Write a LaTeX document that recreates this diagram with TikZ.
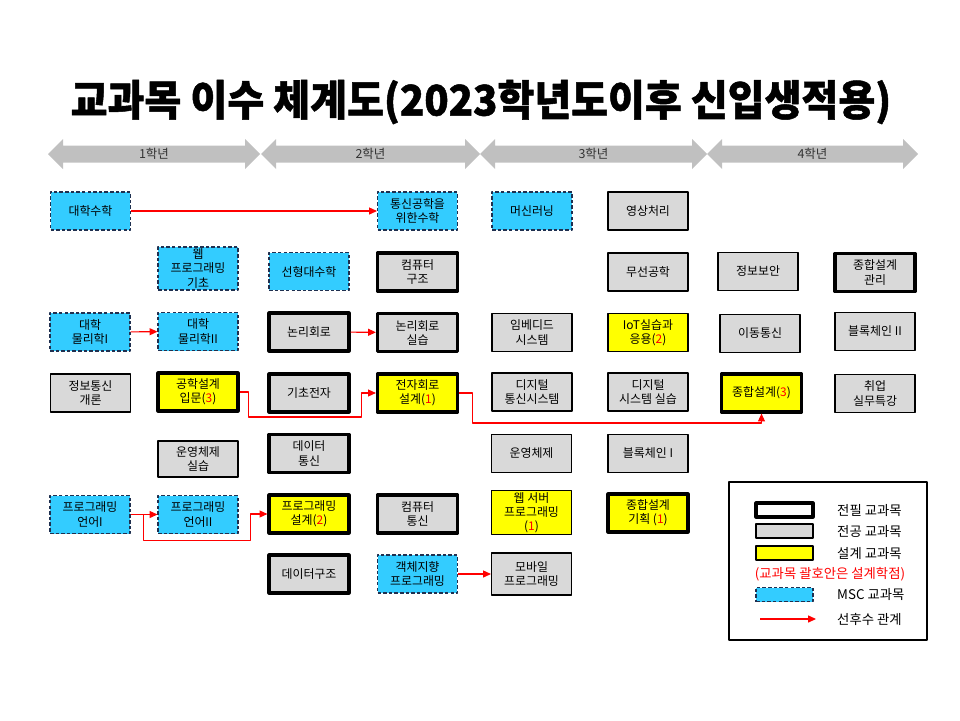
\documentclass[tikz,border=0pt]{standalone}
\usepackage{fontspec}
\usetikzlibrary{arrows.meta,calc}
\newfontfamily\kr{Noto Sans CJK KR}
\newfontfamily\krtitle[BoldFeatures={FakeBold=1.2}]{Noto Sans CJK KR}
\definecolor{msccyan}{HTML}{33CCFF}
\definecolor{mscline}{HTML}{1F3050}
\definecolor{majgray}{HTML}{D9D9D9}
\definecolor{dyellow}{HTML}{FFFF00}
\definecolor{hdgray}{HTML}{C0C0C0}
\newcommand{\credit}[1]{\textcolor{red}{#1}}
\tikzset{
  box/.style={draw,minimum width=1.6cm,minimum height=0.76cm,align=center,inner sep=1pt,
    line width=0.6pt,font=\kr\fontsize{6.8}{8}\selectfont},
  msc/.style={box,fill=msccyan,draw=mscline,dash pattern=on 2pt off 1.2pt},
  major/.style={box,fill=majgray},
  core/.style={box,fill=majgray,line width=1.8pt},
  design/.style={box,fill=dyellow},
  coredesign/.style={design,line width=1.8pt},
  pre/.style={->,red,line width=0.6pt},
  hdlabel/.style={font=\kr\fontsize{7.1}{8}\selectfont,text=black!80},
  legtext/.style={anchor=west,font=\kr\fontsize{7.6}{9}\selectfont},
  swatch/.style={draw,minimum width=1.14cm,minimum height=0.28cm,inner sep=0pt,line width=0.6pt}
}
\begin{document}
\begin{tikzpicture}[x=0.02cm,y=-0.02cm,>={Triangle[length=4.5pt,width=4pt]},line join=round]
  \useasboundingbox (0,0) rectangle (960,720);

  % Title
  \node[font=\krtitle\bfseries\fontsize{24}{26}\selectfont,xscale=0.95] (title) at (481,102)
    {교과목 이수 체계도(2023학년도이후 신입생적용)};

  % Year arrows
  \foreach \xa/\xb/\lab/\nm in {48/260/1학년/yr1,261/480/2학년/yr2,480/707/3학년/yr3,707/918/4학년/yr4}{
    \fill[hdgray] (\xa,154) -- (\xa+15,139) -- (\xa+15,145.5) -- (\xb-15,145.5) -- (\xb-15,139)
      -- (\xb,154) -- (\xb-15,169) -- (\xb-15,162.5) -- (\xa+15,162.5) -- (\xa+15,169) -- cycle;
    \node[hdlabel] (\nm) at ({(\xa+\xb)/2},154) {\lab};
  }

  % 1st year
  \node[msc] (dmath) at (90.5,211) {대학수학};
  \node[msc] (phy1) at (90,332) {대학\\물리학I};
  \node[major] (info) at (90.5,393) {정보통신\\개론};
  \node[msc] (pl1) at (90,514.5) {프로그래밍\\언어I};
  \node[msc,minimum height=0.86cm] (webb) at (198,268.5) {웹\\프로그래밍\\기초};
  \node[msc] (phy2) at (198,331.5) {대학\\물리학II};
  \node[coredesign] (gong) at (198,392) {공학설계\\입문(\credit{3})};
  \node[major,minimum height=0.72cm] (oslab) at (198,459) {운영체제\\실습};
  \node[msc] (pl2) at (198,514.5) {프로그래밍\\언어II};

  % 2nd year
  \node[msc] (linalg) at (309,271.5) {선형대수학};
  \node[core] (logic) at (309,332) {논리회로};
  \node[core] (basic) at (309,393) {기초전자};
  \node[core] (dcomm) at (309,453.5) {데이터\\통신};
  \node[coredesign] (pd) at (309,514) {프로그래밍\\설계(\credit{2})};
  \node[core] (dstruct) at (309,574) {데이터구조};
  \node[msc] (cmath) at (417.5,211) {통신공학을\\위한수학};
  \node[core] (arch) at (417.5,272) {컴퓨터\\구조};
  \node[core] (loglab) at (417.5,332.5) {논리회로\\실습};
  \node[coredesign] (ecd) at (417.5,393) {전자회로\\설계(\credit{1})};
  \node[core] (ccomm) at (417.5,514) {컴퓨터\\통신};
  \node[msc] (oop) at (417.5,574) {객체지향\\프로그래밍};

  % 3rd year
  \node[msc] (ml) at (532,211) {머신러닝};
  \node[major] (emb) at (532,332.5) {임베디드\\시스템};
  \node[major] (dcs) at (532,392) {디지털\\통신시스템};
  \node[major] (os) at (531.5,453.5) {운영체제};
  \node[design] (websrv) at (531.5,512.5) {웹 서버\\프로그래밍\\(\credit{1})};
  \node[major,minimum height=0.84cm] (mobile) at (531.5,574) {모바일\\프로그래밍};
  \node[major] (img) at (648,211) {영상처리};
  \node[major] (wire) at (648,272) {무선공학};
  \node[design] (iot) at (648,332.5) {IoT실습과\\응용(\credit{2})};
  \node[major] (dsl) at (648,392) {디지털\\시스템 실습};
  \node[major] (bc1) at (648,453.5) {블록체인 I};
  \node[coredesign] (cdp) at (648,513) {종합설계\\기획 (\credit{1})};

  % 4th year
  \node[major] (sec) at (758,271.5) {정보보안};
  \node[major] (mob) at (760,333.5) {이동통신};
  \node[coredesign] (cd3) at (761.5,393) {종합설계(\credit{3})};
  \node[core] (cdm) at (875,272.5) {종합설계\\관리};
  \node[major] (bc2) at (875,331.5) {블록체인 II};
  \node[major] (job) at (875,393.5) {취업\\실무특강};

  % Prerequisites
  \draw[pre] (dmath) -- (cmath);
  \draw[pre] (phy1) -- (phy2);
  \draw[pre] (logic) -- (loglab);
  \draw[pre] (oop) -- (mobile);
  \draw[pre] (pl1) -- (pl2);
  \draw[pre] (gong.east) -- ++(9,0) -- ++(0,25) -| ($(ecd.west)+(-14,0)$) -- (ecd.west);
  \draw[pre] (ecd.east) -- ++(13,0) -- ++(0,30) -| (cd3.south);
  \draw[pre] ($(pl1.east)+(13,0)$) -- ++(0,26) -| ($(pd.west)+(-17,0)$) -- (pd.west);

  % Legend
  \draw[line width=0.6pt] (729,482) rectangle (927,640);
  \node[swatch,line width=1.8pt,fill=white] (lgcore) at (784.5,510) {};
  \node[swatch,fill=majgray] (lgmajor) at (784.5,531) {};
  \node[swatch,fill=dyellow] (lgdesign) at (784.5,553) {};
  \node[swatch,fill=msccyan,draw=mscline,dash pattern=on 2pt off 1.2pt] (lgmsc) at (784.5,594.5) {};
  \coordinate (lga) at (760,619);
  \coordinate (lgb) at (816,619);
  \draw[pre] (lga) -- (lgb);
  \node[legtext] (tcore) at (831,510) {전필 교과목};
  \node[legtext] (tmajor) at (831,531) {전공 교과목};
  \node[legtext] (tdesign) at (831,553) {설계 교과목};
  \node[legtext,anchor=center,text=red] (tnote) at (830,574) {(교과목 괄호안은 설계학점)};
  \node[legtext] (tmsc) at (831,594.5) {MSC 교과목};
  \node[legtext] (tpre) at (831,619) {선후수 관계};
\end{tikzpicture}
\end{document}
